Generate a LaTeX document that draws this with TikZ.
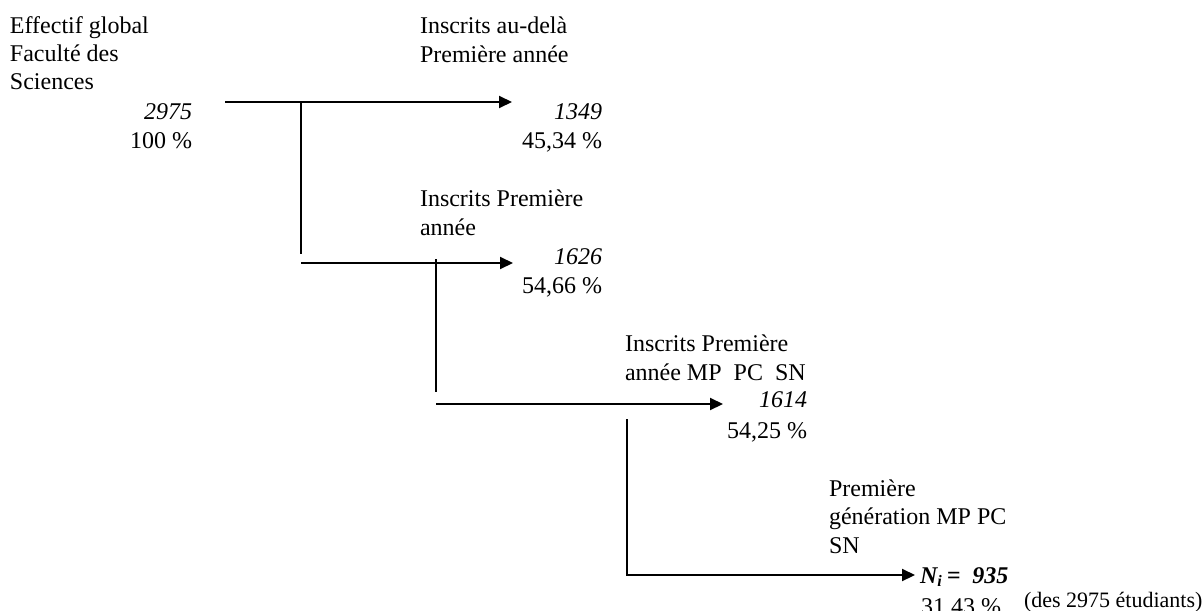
\documentclass[tikz,border=0pt]{standalone}
\usepackage{fontspec}
\setmainfont{Liberation Serif}
\usetikzlibrary{arrows.meta}

\begin{document}
\begin{tikzpicture}[x=0.5pt,y=-0.5pt,font=\fontsize{12}{14.2}\selectfont,
    >={Triangle[length=6.5pt,width=6pt]},line width=1pt,
    lbl/.style={anchor=base west,align=left,inner sep=0pt},
    num/.style={anchor=base east,align=right,inner sep=0pt}]
  \useasboundingbox (0,0) rectangle (1202,610);
  \node[lbl] (global) at (9,90) {Effectif global\\Faculté des\\Sciences};
  \node[num] (nglobal) at (193,148) {\textit{2975}\\100~\%};
  \node[lbl] (audela) at (419,62) {Inscrits au-delà\\Première année};
  \node[num] (naudela) at (603,148) {\textit{1349}\\45,34~\%};
  \node[lbl] (prem) at (419,235) {Inscrits Première\\année};
  \node[num] (nprem) at (603,293) {\textit{1626}\\54,66~\%};
  \node[lbl] (mppcsn) at (624,380) {Inscrits Première\\année MP\enspace PC\enspace SN};
  \node[num] (nmppcsn) at (808,438) {\textit{1614}\\[1pt]54,25~\%};
  \node[lbl] (gen) at (828,553) {Première\\génération MP PC\\SN};
  \node[lbl] (ngen) at (919,583) {\bfseries\itshape N\textsubscript{i}\,=\enspace935};
  \node[num] (pgen) at (1002,614) {31,43~\%};
  \node[lbl,font=\fontsize{11}{13}\selectfont] (rem) at (1023,607) {(des 2975 étudiants)};

  \coordinate (a0) at (225,102);
  \coordinate (a1) at (512,102);
  \coordinate (b0) at (301,102);
  \coordinate (b1) at (301,254);
  \coordinate (c0) at (301,263);
  \coordinate (c1) at (513,263);
  \coordinate (d0) at (436,259);
  \coordinate (d1) at (436,392);
  \coordinate (e0) at (436,404);
  \coordinate (e1) at (723,404);
  \coordinate (f0) at (627,419);
  \coordinate (f1) at (627,574);
  \coordinate (g0) at (626,575);
  \coordinate (g1) at (915,575);
  \draw[->] (a0) -- (a1);
  \draw (b0) -- (b1);
  \draw[->] (c0) -- (c1);
  \draw (d0) -- (d1);
  \draw[->] (e0) -- (e1);
  \draw (f0) -- (f1);
  \draw[->] (g0) -- (g1);
\end{tikzpicture}
\end{document}
